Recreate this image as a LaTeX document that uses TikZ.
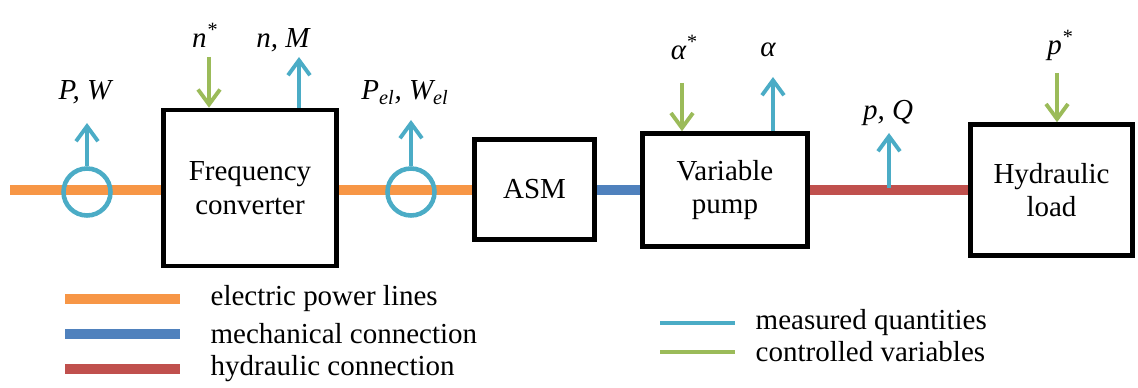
\documentclass[tikz,border=0pt]{standalone}
\usepackage{fontspec}
\setmainfont{Liberation Serif}
\newfontfamily\diagfont{Liberation Serif}
\usepackage{tikz}
\usetikzlibrary{arrows.meta,positioning}
\definecolor{elcol}{HTML}{F79646}
\definecolor{mechcol}{HTML}{4F81BD}
\definecolor{hydcol}{HTML}{C0504D}
\definecolor{meascol}{HTML}{4BACC6}
\definecolor{ctrlcol}{HTML}{9BBB59}

\begin{document}
\begin{tikzpicture}[
  x=0.02cm, y=-0.02cm,
  block/.style={draw, line width=2.6pt, align=center, font=\diagfont\fontsize{16.5}{19}\selectfont},
  lbl/.style={anchor=base, inner sep=0pt, font=\diagfont\fontsize{16.5}{19}\selectfont\itshape},
  sensor/.style={draw=meascol, circle, line width=2.6pt, minimum size=0.94cm, inner sep=0pt},
  meas/.style={draw=meascol, line width=2.2pt, -{Straight Barb[length=3mm, width=4.4mm]}},
  ctrl/.style={draw=ctrlcol, line width=2.2pt, -{Straight Barb[length=3mm, width=4.4mm]}},
  elec/.style={draw=elcol, line width=0.2cm},
  mech/.style={draw=mechcol, line width=0.2cm},
  hydr/.style={draw=hydcol, line width=0.2cm},
  swatch/.style={minimum width=2.3cm, minimum height=0.2cm, inner sep=0pt},
  legtext/.style={anchor=west, inner sep=0pt, font=\diagfont\fontsize{16.5}{19}\selectfont}
]
\useasboundingbox (0,0) rectangle (1138,388);

% blocks
\node[block, minimum width=3.46cm, minimum height=3.12cm] (fc) at (250,188) {Frequency\\ converter};
\node[block, minimum width=2.4cm, minimum height=2.0cm] (asm) at (534.5,189.5) {ASM};
\node[block, minimum width=3.3cm, minimum height=2.26cm] (pump) at (725,190) {Variable\\ pump};
\node[block, minimum width=3.24cm, minimum height=2.62cm] (load) at (1051.5,190) {Hydraulic\\ load};

% power lines
\coordinate (src) at (10,190);
\draw[elec] (src) -- (fc.west |- src);
\draw[elec] (fc.east |- src) -- (asm.west |- src);
\draw[mech] (asm.east |- src) -- (pump.west |- src);
\draw[hydr] (pump.east |- src) -- (load.west |- src);

% sensors
\node[sensor] (s1) at (87,192) {};
\node[sensor] (s2) at (411,192) {};
\coordinate (t1) at (87,123);
\coordinate (t2) at (411,120);
\draw[meas] (s1) -- (t1);
\draw[meas] (s2) -- (t2);
\node[lbl] (lpw) at (85,100) {P, W};
\node[lbl] (lpel) at (405,100) {P\textsubscript{el}, W\textsubscript{el}};

% frequency converter signals
\coordinate (nset) at (209,57);
\coordinate (nm) at (299,57);
\draw[ctrl] (nset) -- (nset |- fc.north);
\draw[meas] (fc.north -| nm) -- (nm);
\node[lbl] (ln) at (205,48) {n\textsuperscript{*}};
\node[lbl] (lnm) at (283,48) {n, M};

% pump signals
\coordinate (aset) at (682,83);
\coordinate (aact) at (773,77);
\draw[ctrl] (aset) -- (aset |- pump.north);
\draw[meas] (pump.north -| aact) -- (aact);
\node[lbl] (laset) at (684,60) {α\textsuperscript{*}};
\node[lbl] (laact) at (768,57) {α};

% hydraulic signals
\coordinate (pqbase) at (889,188);
\coordinate (pq) at (889,133);
\draw[meas] (pqbase) -- (pq);
\node[lbl] (lpq) at (888,120) {p, Q};
\coordinate (pset) at (1057,73);
\draw[ctrl] (pset) -- (pset |- load.north);
\node[lbl] (lp) at (1060,55) {p\textsuperscript{*}};

% legend
\node[swatch, fill=elcol] (leg1) at (122.5,299) {};
\node[swatch, fill=mechcol] (leg2) at (122.5,334) {};
\node[swatch, fill=hydcol] (leg3) at (122.5,369) {};
\node[legtext, right=0.6cm of leg1] (txt1) {electric power lines};
\node[legtext, right=0.6cm of leg2] (txt2) {mechanical connection};
\node[legtext, right=0.6cm of leg3] (txt3) {hydraulic connection};
\node[swatch, minimum width=1.5cm, minimum height=0.08cm, fill=meascol] (leg4) at (697.5,323) {};
\node[swatch, minimum width=1.5cm, minimum height=0.08cm, fill=ctrlcol] (leg5) at (697.5,352) {};
\node[legtext, right=0.4cm of leg4] (txt4) {measured quantities};
\node[legtext, right=0.4cm of leg5] (txt5) {controlled variables};
\end{tikzpicture}
\end{document}
